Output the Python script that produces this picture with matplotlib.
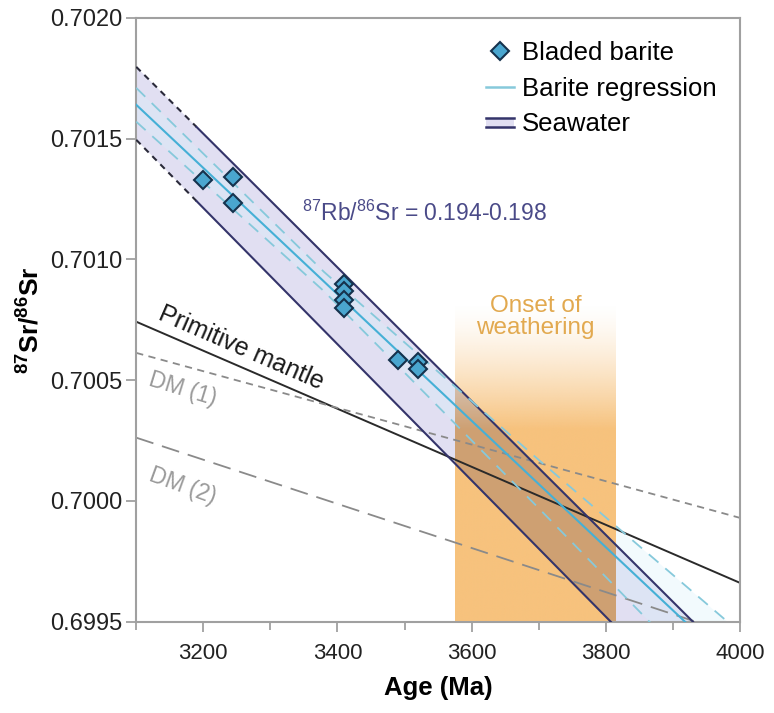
import matplotlib
matplotlib.use("Agg")
import matplotlib.pyplot as plt
import numpy as np
from matplotlib.lines import Line2D
from matplotlib.patches import Rectangle
from matplotlib.legend_handler import HandlerBase

plt.rcParams['font.family'] = ['Liberation Sans', 'DejaVu Sans']
plt.rcParams['mathtext.fontset'] = 'custom'
plt.rcParams['mathtext.rm'] = 'Liberation Sans'
plt.rcParams['mathtext.bf'] = 'Liberation Sans:bold'
plt.rcParams['mathtext.default'] = 'regular'

# ---- bladed barite measurements ----
barite_age = [3200, 3245, 3245, 3410, 3410, 3410, 3410, 3490, 3520, 3520]
barite_sr = [0.70133, 0.70134, 0.701235, 0.70090, 0.70087, 0.70083, 0.70080, 0.700585, 0.700575, 0.700545]

# ---- barite regression (centre + confidence) ----
reg_age = [3100, 3380, 3700, 4000]
reg_mid = [0.70164, 0.700908, 0.70007, 0.699286]
reg_hi = [0.70171, 0.700948, 0.70017, 0.699456]
reg_lo = [0.70157, 0.700868, 0.69997, 0.699116]

# ---- seawater band (Rb/Sr = 0.194-0.198) ----
sw_age = [3100, 3190, 4000]
sw_hi = [0.701797, 0.701548, 0.699306]
sw_lo = [0.701495, 0.701241, 0.698957]

# ---- mantle reservoirs ----
pm_age = [3100, 4000]
pm_sr = [0.700742, 0.699661]
dm1_sr = [0.700613, 0.69993]
dm2_sr = [0.700262, 0.69944]

# ---- onset of weathering window ----
onset_age = [3575, 3815]

navy = '#34346a'
lav = '#e1dff2'
cyan = '#45b0d6'
cyan_d = '#86c9db'
orange = np.array([247, 194, 125]) / 255

fig = plt.figure(figsize=(7.74, 7.13), dpi=100)
ax = fig.add_axes([0.176, 0.128, 0.78, 0.847])
ax.set_xlim(3100, 4000)
ax.set_ylim(0.6995, 0.7020)

# seawater fill and regression fill
ax.fill_between(sw_age, sw_lo, sw_hi, color=lav, lw=0, zorder=1)
ax.fill_between(reg_age, reg_lo, reg_hi, color='#d6f1fb', alpha=0.3, lw=0, zorder=1.1)

# orange window with fade; darker where it overlaps the seawater band
top = 0.70082
gx = np.linspace(onset_age[0], onset_age[1], 200)
gy = np.linspace(0.6995, top, 300)
GX, GY = np.meshgrid(gx, gy)
hi = np.interp(GX, sw_age, sw_hi)
lo = np.interp(GX, sw_age, sw_lo)
inside = (GY >= lo) & (GY <= hi)
lav_rgb = np.array(matplotlib.colors.to_rgb('#dcd9f0'))
img = np.zeros(GX.shape + (4,))
img[..., :3] = orange
img[inside, :3] = orange * lav_rgb * 0.97
alpha = np.clip((top - GY) / (top - 0.70030), 0, 1) ** 1.4
img[..., 3] = alpha
ax.imshow(img, extent=[onset_age[0], onset_age[1], 0.6995, top], origin='lower',
          aspect='auto', zorder=1.5, interpolation='bilinear')

# mantle lines
ax.plot(pm_age, pm_sr, color='#2a2a2a', lw=1.4, zorder=2)
ax.plot(pm_age, dm1_sr, color='#8a8a8a', lw=1.3, ls=(0, (4, 3)), zorder=2)
ax.plot(pm_age, dm2_sr, color='#8a8a8a', lw=1.3, ls=(0, (10, 5)), zorder=2)

# seawater boundaries
ax.plot(sw_age[:2], sw_hi[:2], color='#2a2a3a', lw=1.5, ls=(0, (3, 2.5)), zorder=3)
ax.plot(sw_age[:2], sw_lo[:2], color='#2a2a3a', lw=1.5, ls=(0, (3, 2.5)), zorder=3)
ax.plot(sw_age[1:], sw_hi[1:], color=navy, lw=1.5, zorder=3)
ax.plot(sw_age[1:], sw_lo[1:], color=navy, lw=1.5, zorder=3)

# regression lines
ax.plot(reg_age, reg_mid, color=cyan, lw=1.5, zorder=3)
ax.plot(reg_age, reg_hi, color=cyan_d, lw=1.3, ls=(0, (7, 5)), zorder=3)
ax.plot(reg_age, reg_lo, color=cyan_d, lw=1.3, ls=(0, (7, 5)), zorder=3)

ax.plot(barite_age, barite_sr, ls='none', marker='D', ms=9.5, mfc='#4aa6cf',
        mec='#15324d', mew=1.5, zorder=5)

# annotations
ax.text(3128, 0.700735, 'Primitive mantle', rotation=-23.5, fontsize=18,
        color='#1a1a1a', ha='left', va='bottom', rotation_mode='anchor')
ax.text(3120, 0.700505, 'DM (1)', rotation=-17, fontsize=16.5, color='#9a9a9a',
        ha='left', va='center', rotation_mode='anchor')
ax.text(3120, 0.70011, 'DM (2)', rotation=-20, fontsize=16.5, color='#9a9a9a',
        ha='left', va='center', rotation_mode='anchor')
ax.text(3347, 0.70119, r'$^{87}$Rb/$^{86}$Sr = 0.194-0.198', fontsize=16.5,
        color='#4a4a88', ha='left', va='center')
ax.text(3695, 0.70076, 'Onset of\nweathering', fontsize=17.5, color='#e2a94f',
        ha='center', va='center', linespacing=1.0)

# legend
class DoubleLine(HandlerBase):
    def create_artists(self, legend, orig_handle, xdescent, ydescent, width, height,
                       fontsize, trans):
        y1 = height * 0.2 - ydescent
        y2 = height * 0.7 - ydescent
        r = Rectangle((-xdescent, y1), width, y2 - y1, facecolor=lav, edgecolor='none',
                      transform=trans)
        l1 = Line2D([-xdescent, width - xdescent], [y1, y1], color=navy, lw=1.8, transform=trans)
        l2 = Line2D([-xdescent, width - xdescent], [y2, y2], color=navy, lw=1.8, transform=trans)
        return [r, l1, l2]

h1 = Line2D([], [], ls='none', marker='D', ms=9, mfc='#4aa6cf', mec='#15324d', mew=1.5)
h2 = Line2D([], [], color=cyan_d, lw=1.8)
h3 = Rectangle((0, 0), 1, 1)
ax.legend([h1, h2, h3], ['Bladed barite', 'Barite regression', 'Seawater'],
          loc='upper right', frameon=False, fontsize=18.5, handlelength=1.1,
          handletextpad=0.3, labelspacing=0.45, borderaxespad=0.5,
          handler_map={Rectangle: DoubleLine()})

# axes styling
ax.set_xticks([3200, 3400, 3600, 3800, 4000])
ax.set_xticks(np.arange(3100, 4001, 100), minor=True)
ax.set_yticks([0.6995, 0.7000, 0.7005, 0.7010, 0.7015, 0.7020])
ax.set_yticklabels(['0.6995', '0.7000', '0.7005', '0.7010', '0.7015', '0.7020'])
for s in ax.spines.values():
    s.set_color('#a0a0a0')
    s.set_linewidth(1.5)
ax.tick_params(which='both', direction='out', color='#a0a0a0', width=1.3,
               labelcolor='#222222')
ax.tick_params(axis='x', labelsize=16, pad=8)
ax.tick_params(axis='y', labelsize=17, pad=3)
ax.tick_params(which='major', length=7)
ax.tick_params(which='minor', length=6)
ax.set_xlabel('Age (Ma)', fontsize=18.5, fontweight='bold', labelpad=9)
ax.set_ylabel(r'$^{\mathbf{87}}$Sr/$^{\mathbf{86}}$Sr', fontsize=19, fontweight='bold', labelpad=4)

fig.savefig('out.png', dpi=100)
